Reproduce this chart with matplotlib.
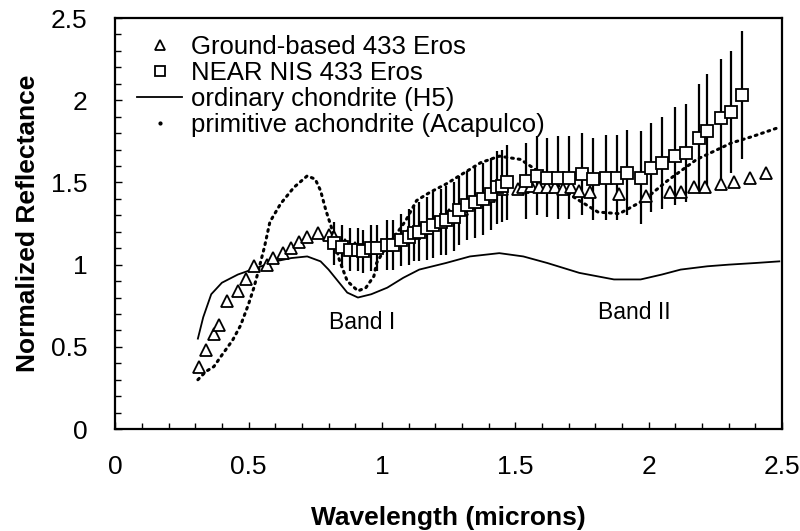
import matplotlib
matplotlib.use("Agg")
from matplotlib import pyplot as plt
from matplotlib.lines import Line2D
from matplotlib.ticker import MultipleLocator

plt.rcParams['font.family'] = ['Liberation Sans', 'DejaVu Sans']

# ground-based 433 Eros (triangles)
ground_x = [0.315, 0.34, 0.37, 0.39, 0.42, 0.46, 0.49, 0.52, 0.57, 0.59, 0.63, 0.66,
            0.69, 0.72, 0.76, 0.80, 0.82, 0.86, 0.90, 0.95, 1.00, 1.05, 1.10, 1.15,
            1.20, 1.25, 1.30, 1.35, 1.40, 1.45, 1.51, 1.53, 1.56, 1.59, 1.62, 1.65,
            1.68, 1.71, 1.74, 1.78, 1.89, 1.99, 2.08, 2.12, 2.17, 2.21, 2.27, 2.32,
            2.38, 2.44]
ground_y = [0.38, 0.48, 0.58, 0.63, 0.78, 0.84, 0.91, 0.99, 1.00, 1.04, 1.07, 1.10,
            1.14, 1.17, 1.19, 1.18, 1.17, 1.12, 1.10, 1.10, 1.12, 1.15, 1.19, 1.22,
            1.26, 1.30, 1.34, 1.38, 1.42, 1.46, 1.46, 1.47, 1.48, 1.47, 1.47, 1.47,
            1.46, 1.47, 1.45, 1.44, 1.43, 1.42, 1.44, 1.44, 1.47, 1.47, 1.49, 1.50,
            1.53, 1.56]

# NEAR NIS 433 Eros (squares with error bars)
nis_x = [0.82, 0.85, 0.88, 0.91, 0.93, 0.96, 0.98, 1.02, 1.04, 1.07, 1.10, 1.12,
         1.14, 1.17, 1.19, 1.22, 1.24, 1.27, 1.29, 1.32, 1.35, 1.38, 1.41, 1.43,
         1.45, 1.47, 1.54, 1.58, 1.62, 1.66, 1.70, 1.75, 1.79, 1.84, 1.88, 1.92,
         1.97, 2.01, 2.05, 2.10, 2.14, 2.19, 2.22, 2.27, 2.31, 2.35]
nis_y = [1.13, 1.11, 1.09, 1.09, 1.08, 1.10, 1.10, 1.12, 1.12, 1.15, 1.17, 1.19,
         1.20, 1.22, 1.24, 1.26, 1.27, 1.29, 1.33, 1.36, 1.38, 1.40, 1.43, 1.47,
         1.48, 1.50, 1.51, 1.54, 1.53, 1.53, 1.53, 1.55, 1.52, 1.53, 1.53, 1.56,
         1.53, 1.59, 1.62, 1.66, 1.68, 1.77, 1.81, 1.89, 1.93, 2.03]
nis_err = [0.13, 0.13, 0.13, 0.13, 0.13, 0.14, 0.14, 0.15, 0.15, 0.16, 0.17, 0.17,
           0.18, 0.19, 0.20, 0.20, 0.21, 0.21, 0.21, 0.21, 0.22, 0.22, 0.22, 0.22,
           0.22, 0.23, 0.23, 0.24, 0.24, 0.25, 0.25, 0.25, 0.25, 0.26, 0.26, 0.26,
           0.28, 0.27, 0.28, 0.30, 0.30, 0.33, 0.35, 0.36, 0.37, 0.39]

# ordinary chondrite (H5)
h5_x = [0.31, 0.33, 0.36, 0.40, 0.46, 0.53, 0.60, 0.66, 0.72, 0.77, 0.80, 0.82,
        0.85, 0.87, 0.91, 0.96, 1.02, 1.08, 1.14, 1.24, 1.33, 1.44, 1.53, 1.62,
        1.74, 1.87, 1.97, 2.05, 2.12, 2.22, 2.30, 2.40, 2.49]
h5_y = [0.55, 0.68, 0.82, 0.89, 0.94, 0.98, 1.02, 1.04, 1.05, 1.02, 0.97, 0.93,
        0.87, 0.83, 0.80, 0.82, 0.86, 0.92, 0.97, 1.01, 1.05, 1.07, 1.05, 1.01,
        0.95, 0.91, 0.91, 0.94, 0.97, 0.99, 1.00, 1.01, 1.02]

# primitive achondrite (Acapulco)
aca_x = [0.31, 0.34, 0.37, 0.40, 0.44, 0.47, 0.50, 0.52, 0.53, 0.56, 0.58, 0.62,
         0.67, 0.72, 0.75, 0.77, 0.78, 0.79, 0.81, 0.84, 0.87, 0.91, 0.94, 0.97,
         0.98, 1.02, 1.06, 1.09, 1.11, 1.13, 1.18, 1.24, 1.37, 1.44, 1.52, 1.62,
         1.72, 1.81, 1.89, 1.98, 2.07, 2.18, 2.31, 2.39, 2.48]
aca_y = [0.30, 0.35, 0.38, 0.45, 0.54, 0.63, 0.76, 0.86, 0.92, 1.11, 1.26, 1.37,
         1.47, 1.54, 1.52, 1.45, 1.39, 1.33, 1.23, 1.03, 0.90, 0.84, 0.86, 0.93,
         1.01, 1.12, 1.20, 1.27, 1.33, 1.39, 1.44, 1.49, 1.62, 1.66, 1.64, 1.53,
         1.41, 1.32, 1.31, 1.39, 1.51, 1.64, 1.74, 1.78, 1.83]

fig = plt.figure(figsize=(8, 5.31), dpi=100)
ax = fig.add_axes([0.144, 0.192, 0.8335, 0.774])

ax.plot(h5_x, h5_y, color='black', lw=1.3)
ax.plot(aca_x, aca_y, color='black', lw=2.2, ls=(0, (0.6, 1.6)), dash_capstyle='round')
ax.errorbar(nis_x, nis_y, yerr=nis_err, fmt='none', ecolor='black', elinewidth=1.6)
ax.plot(ground_x, ground_y, ls='none', marker='^', ms=9, mfc='white', mec='black', mew=1.3)
ax.plot(nis_x, nis_y, ls='none', marker='s', ms=8.5, mfc='white', mec='black', mew=1.3)

ax.text(0.80, 0.65, 'Band I', fontsize=16.5, va='center')
ax.text(1.81, 0.71, 'Band II', fontsize=16.5, va='center')

handles = [
    Line2D([], [], ls='none', marker='^', ms=7, mfc='white', mec='black', mew=1.3),
    Line2D([], [], ls='none', marker='s', ms=7, mfc='white', mec='black', mew=1.3),
    Line2D([], [], color='black', lw=1.3),
    Line2D([], [], ls='none', marker='.', ms=4, color='black'),
]
labels = ['Ground-based 433 Eros', 'NEAR NIS 433 Eros',
          'ordinary chondrite (H5)', 'primitive achondrite (Acapulco)']
ax.legend(handles, labels, loc='upper left', bbox_to_anchor=(0.033, 0.958),
          frameon=False, fontsize=18.5, handlelength=1.75, handletextpad=0.35,
          labelspacing=0.08, borderpad=0, borderaxespad=0)

ax.set_xlim(0, 2.5)
ax.set_ylim(0, 2.5)
ax.xaxis.set_major_locator(MultipleLocator(0.5))
ax.yaxis.set_major_locator(MultipleLocator(0.5))
ax.xaxis.set_minor_locator(MultipleLocator(0.1))
ax.yaxis.set_minor_locator(MultipleLocator(0.1))
ax.tick_params(which='both', direction='in', top=False, right=False,
               labelsize=19, width=1)
ax.tick_params(which='major', length=5)
ax.tick_params(which='minor', length=4)
ax.tick_params(axis='x', which='major', pad=19)
ax.tick_params(axis='y', which='major', pad=20)
ax.xaxis.set_major_formatter(plt.FuncFormatter(lambda v, p: f'{v:g}'))
ax.yaxis.set_major_formatter(plt.FuncFormatter(lambda v, p: f'{v:g}'))
for s in ax.spines.values():
    s.set_linewidth(1.6)

ax.set_xlabel('Wavelength (microns)', fontsize=19, fontweight='bold', labelpad=19)
ax.set_ylabel('Normalized Reflectance', fontsize=19, fontweight='bold', labelpad=8)

fig.savefig('out.png', dpi=100)
